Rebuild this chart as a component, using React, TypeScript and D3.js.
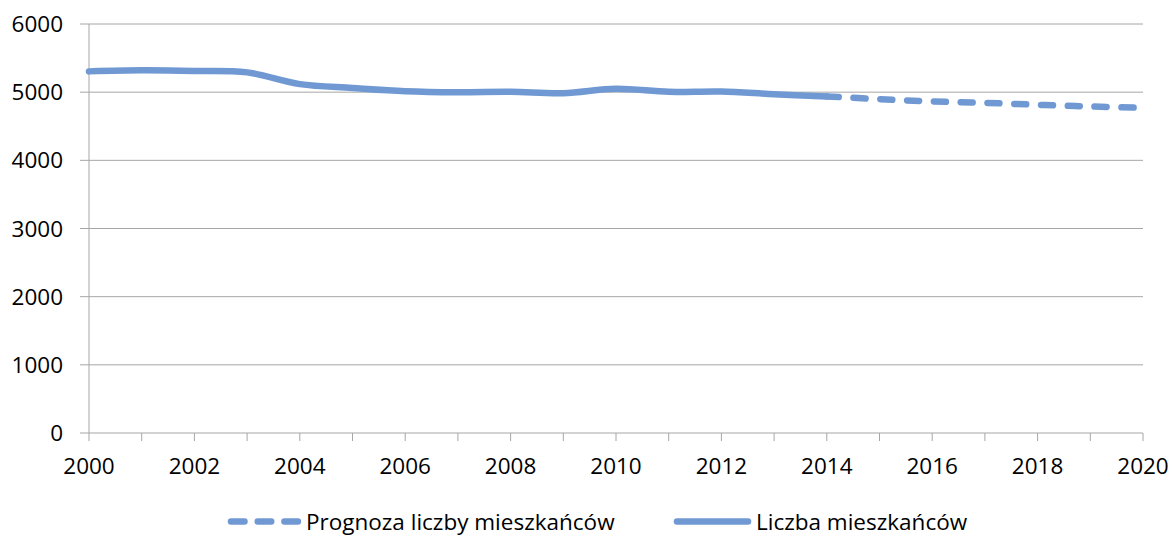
import React, { useEffect, useRef } from 'react';
import * as d3 from 'd3';

// values
const years = [2000, 2001, 2002, 2003, 2004, 2005, 2006, 2007, 2008, 2009, 2010, 2011, 2012, 2013, 2014];
const population = [5305, 5320, 5312, 5290, 5118, 5062, 5015, 5000, 5005, 4985, 5050, 5005, 5010, 4970, 4938];
const forecastYears = [2014, 2015, 2016, 2017, 2018, 2019, 2020];
const forecast = [4938, 4897, 4865, 4843, 4815, 4790, 4770];
const yTicks = [0, 1000, 2000, 3000, 4000, 5000, 6000];
const xTicks = [2000, 2002, 2004, 2006, 2008, 2010, 2012, 2014, 2016, 2018, 2020];
const legendLabels = ['Prognoza liczby mieszkańców', 'Liczba mieszkańców'];

const COLOR = '#7099d3';
const FONT = '"Open Sans", sans-serif';

const App = () => {
  const svgRef = useRef(null);

  useEffect(() => {
    const width = 1175;
    const height = 536;
    const margin = { top: 24, right: 32, bottom: 103, left: 89 };

    const svg = d3.select(svgRef.current);
    svg.selectAll('*').remove();

    const x = d3.scaleLinear().domain([2000, 2020]).range([margin.left, width - margin.right]);
    const y = d3.scaleLinear().domain([0, 6000]).range([height - margin.bottom, margin.top]);

    // Gridlines
    svg.append('g')
      .selectAll('line')
      .data(yTicks)
      .join('line')
      .attr('x1', margin.left - 9)
      .attr('x2', width - margin.right)
      .attr('y1', d => y(d))
      .attr('y2', d => y(d))
      .attr('stroke', '#a6a6a6')
      .attr('stroke-width', 1);

    // Y axis line
    svg.append('line')
      .attr('x1', margin.left).attr('x2', margin.left)
      .attr('y1', y(6000)).attr('y2', y(0))
      .attr('stroke', '#a6a6a6');

    // X tick marks for every year
    svg.append('g')
      .selectAll('line')
      .data(d3.range(2000, 2021))
      .join('line')
      .attr('x1', d => x(d)).attr('x2', d => x(d))
      .attr('y1', y(0)).attr('y2', y(0) + 8)
      .attr('stroke', '#a6a6a6');

    // Y labels
    svg.append('g')
      .selectAll('text')
      .data(yTicks)
      .join('text')
      .attr('x', margin.left - 26)
      .attr('y', d => y(d))
      .attr('dy', '0.36em')
      .attr('text-anchor', 'end')
      .style('font-family', FONT)
      .style('font-size', '22.5px')
      .attr('fill', '#000')
      .text(d => d);

    // X labels
    svg.append('g')
      .selectAll('text')
      .data(xTicks)
      .join('text')
      .attr('x', d => x(d))
      .attr('y', y(0) + 33)
      .attr('dy', '0.36em')
      .attr('text-anchor', 'middle')
      .style('font-family', FONT)
      .style('font-size', '22.5px')
      .attr('fill', '#000')
      .text(d => d);

    const line = d3.line()
      .x(d => x(d[0]))
      .y(d => y(d[1]))
      .curve(d3.curveCatmullRom);

    // Forecast (dashed)
    svg.append('path')
      .datum(forecastYears.map((yr, i) => [yr, forecast[i]]))
      .attr('d', line)
      .attr('fill', 'none')
      .attr('stroke', COLOR)
      .attr('stroke-width', 6.5)
      .attr('stroke-linecap', 'round')
      .attr('stroke-dasharray', '12 14.8');

    // Actual (solid)
    svg.append('path')
      .datum(years.map((yr, i) => [yr, population[i]]))
      .attr('d', line)
      .attr('fill', 'none')
      .attr('stroke', COLOR)
      .attr('stroke-width', 6.5)
      .attr('stroke-linecap', 'round');

    // Legend
    const legendY = 521.5;
    const legend = svg.append('g');
    const items = [
      { label: legendLabels[0], x0: 231, x1: 301, dashed: true, tx: 306 },
      { label: legendLabels[1], x0: 677, x1: 748, dashed: false, tx: 756 },
    ];
    items.forEach(it => {
      legend.append('line')
        .attr('x1', it.x0).attr('x2', it.x1)
        .attr('y1', legendY).attr('y2', legendY)
        .attr('stroke', COLOR)
        .attr('stroke-width', 6.5)
        .attr('stroke-linecap', 'round')
        .attr('stroke-dasharray', it.dashed ? '13.5 13.2' : null);
      legend.append('text')
        .attr('x', it.tx)
        .attr('y', legendY)
        .attr('dy', '0.36em')
        .style('font-family', FONT)
        .style('font-size', '22.5px')
        .attr('fill', '#000')
        .text(it.label);
    });
  }, []);

  return (
    <svg
      ref={svgRef}
      width={1175}
      height={536}
      style={{ position: 'absolute', left: 0, top: 0, background: '#fff' }}
    />
  );
};

export default App;
